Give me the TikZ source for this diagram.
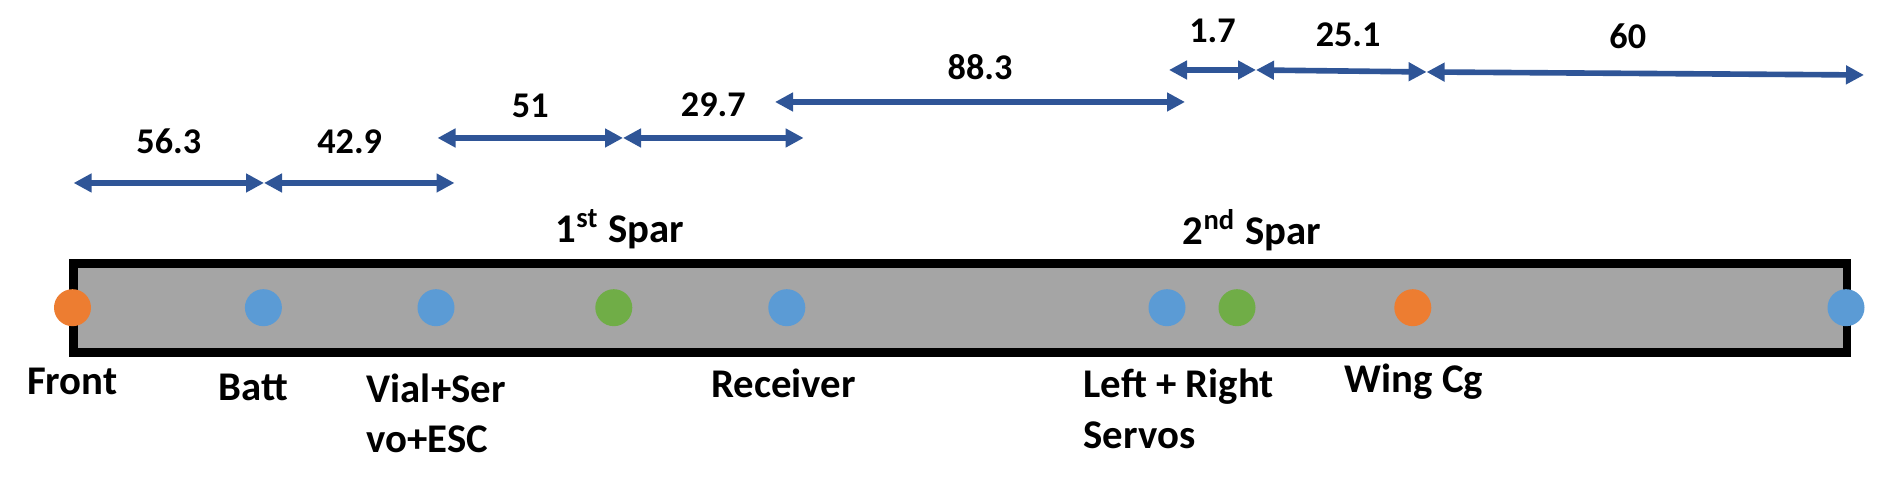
\documentclass[tikz,border=0pt]{standalone}
\usepackage{fontspec}
\setmainfont{Carlito}
\usetikzlibrary{arrows.meta}

\definecolor{dimblue}{HTML}{2F5597}
\definecolor{bargray}{HTML}{A5A5A5}
\definecolor{ptorange}{HTML}{ED7D31}
\definecolor{ptblue}{HTML}{5B9BD5}
\definecolor{ptgreen}{HTML}{70AD47}

\tikzset{
  dimarrow/.style={draw=dimblue, line width=1.6pt,
    {Triangle[length=1.8mm,width=1.8mm]}-{Triangle[length=1.8mm,width=1.8mm]}},
  dimlab/.style={font=\fontsize{10.3}{12}\selectfont\bfseries, inner sep=0pt},
  ptdot/.style={circle, minimum size=3.7mm, inner sep=0pt},
  lab/.style={font=\fontsize{11.6}{14.4}\selectfont\bfseries, inner sep=0pt, align=left},
}

\begin{document}
\begin{tikzpicture}
        \useasboundingbox (0,0) rectangle (18.84,4.89);

        % bar
        \draw[line width=2.55pt, fill=bargray] (0.735,1.365) rectangle (18.47,2.255);

        % points on the bar
        \node[ptdot, fill=ptorange] (front) at (0.725,1.813) {};
        \node[ptdot, fill=ptblue] (batt) at (2.634,1.813) {};
        \node[ptdot, fill=ptblue] (vial) at (4.36,1.813) {};
        \node[ptdot, fill=ptgreen] (spar1) at (6.138,1.813) {};
        \node[ptdot, fill=ptblue] (receiver) at (7.868,1.813) {};
        \node[ptdot, fill=ptblue] (servos) at (11.67,1.813) {};
        \node[ptdot, fill=ptgreen] (spar2) at (12.37,1.813) {};
        \node[ptdot, fill=ptorange] (wingcg) at (14.128,1.813) {};
        \node[ptdot, fill=ptblue] (tail) at (18.46,1.813) {};

        % labels (base of a two-line label is its last line)
        \node[lab, anchor=base] (frontlab) at (0.724,0.94) {Front};
        \node[lab, anchor=base] (battlab) at (2.535,0.88) {Batt};
        \node[lab, anchor=base west] (viallab) at (3.66,0.363) {Vial+Ser\\vo+ESC};
        \node[lab, anchor=base] (receiverlab) at (7.835,0.91) {Receiver};
        \node[lab, anchor=base west] (servoslab) at (10.83,0.407) {Left + Right\\Servos};
        \node[lab, anchor=base] (wingcglab) at (14.14,0.96) {Wing Cg};
        \node[lab, anchor=base] (spar1lab) at (6.2,2.46) {1\textsuperscript{st} Spar};
        \node[lab, anchor=base] (spar2lab) at (12.52,2.44) {2\textsuperscript{nd} Spar};

        % dimensions
        \coordinate (a1) at (0.736,3.06);
        \coordinate (a2) at (2.64,3.06);
        \coordinate (a3) at (4.545,3.06);
        \coordinate (b1) at (4.375,3.51);
        \coordinate (b2) at (6.23,3.51);
        \coordinate (b3) at (8.036,3.51);
        \coordinate (c1) at (7.75,3.87);
        \coordinate (c2) at (11.85,3.87);
        \coordinate (d1) at (11.69,4.19);
        \coordinate (d2) at (12.56,4.19);
        \coordinate (d3) at (14.266,4.17);
        \coordinate (d4) at (18.64,4.14);

        \draw[dimarrow] (a1) -- node[dimlab, above=0.266cm] (l563) {56.3} (a2);
        \draw[dimarrow] (a2) -- node[dimlab, pos=0.45, above=0.26cm] (l429) {42.9} (a3);
        \draw[dimarrow] (b1) -- node[dimlab, above=0.176cm] (l51) {51} (b2);
        \draw[dimarrow] (b2) -- node[dimlab, above=0.18cm] (l297) {29.7} (b3);
        \draw[dimarrow] (c1) -- node[dimlab, above=0.19cm] (l883) {88.3} (c2);
        \draw[dimarrow] (d1) -- node[dimlab, above=0.24cm] (l17) {1.7} (d2);
        \draw[dimarrow] (d2) -- node[dimlab, pos=0.54, above=0.215cm] (l251) {25.1} (d3);
        \draw[dimarrow] (d3) -- node[dimlab, pos=0.46, above=0.215cm] (l60) {60} (d4);
\end{tikzpicture}
\end{document}
